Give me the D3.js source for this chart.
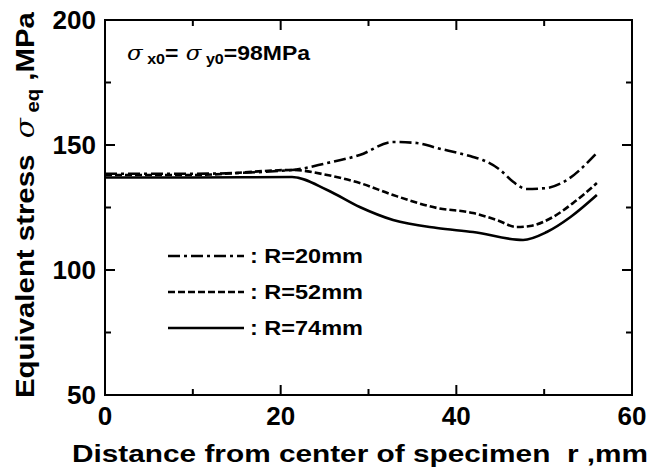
<!DOCTYPE html>
<html>
<head>
<meta charset="utf-8">
<script src="https://cdn.jsdelivr.net/npm/d3@7"></script>
<style>
  body { margin: 0; background: #fff; }
  text { font-family: "Liberation Sans", Arial, sans-serif; font-weight: bold; fill: #000; white-space: pre; }
</style>
</head>
<body>
<svg id="chart"></svg>
<script>
// R = 20 mm (dash-dot)
const r20 = [0, 10, 21.3, 25.3, 29, 32.8, 35.5, 37.8, 41.9, 43, 45, 46.5, 48, 50.3, 52.2, 56]
const v20 = [138.5, 138.5, 140, 142.8, 146, 151.2, 150.8, 148.8, 145.2, 144, 140, 135.2, 132.4, 132.8, 135.2, 146.8]
// R = 52 mm (dashed)
const r52 = [0, 10, 21.4, 25.3, 29, 32.8, 37.8, 41.9, 44.6, 46.9, 48.4, 51, 53.3, 56]
const v52 = [138, 138, 140, 138, 134.8, 130, 124.8, 122.8, 120, 117.2, 117.6, 121.2, 126.8, 134.8]
// R = 74 mm (solid)
const r74 = [0, 10, 21.3, 25.3, 29, 32.8, 37.8, 41.9, 47.6, 50.3, 53, 56]
const v74 = [137, 137, 137.2, 132, 125.2, 120, 116.8, 115.2, 112, 115.2, 121.2, 130]

const xTicks = [0, 20, 40, 60]
const xMinor = [10, 30, 50]
const yTicks = [50, 100, 150, 200]
const yMinor = [75, 125, 175]
const legendLabels = [': R=20mm', ': R=52mm', ': R=74mm']
const dashes = ['12,4,3,4', '7,3', null]

const width = 652, height = 470
const margin = { top: 20, left: 105, bottom: 75, right: 20 }
const iwidth = width - margin.left - margin.right
const iheight = height - margin.top - margin.bottom

const svg = d3.select('#chart').attr('width', width).attr('height', height)
const g = svg.append('g').attr('transform', `translate(${margin.left},${margin.top})`)

const x = d3.scaleLinear().domain([0, 60]).range([0, iwidth])
const y = d3.scaleLinear().domain([50, 200]).range([iheight, 0])

// frame
g.append('rect')
    .attr('width', iwidth).attr('height', iheight)
    .attr('fill', 'none').attr('stroke', '#000').attr('stroke-width', 2)

// inward ticks on all four sides
const tk = (vals, len) => {
    vals.forEach(v => {
        g.append('line').attr('x1', x(v)).attr('x2', x(v)).attr('y1', iheight).attr('y2', iheight - len)
            .attr('stroke', '#000').attr('stroke-width', 2)
        g.append('line').attr('x1', x(v)).attr('x2', x(v)).attr('y1', 0).attr('y2', len)
            .attr('stroke', '#000').attr('stroke-width', 2)
    })
}
tk(xTicks, 10)
tk(xMinor, 6)
const tky = (vals, len) => {
    vals.forEach(v => {
        g.append('line').attr('y1', y(v)).attr('y2', y(v)).attr('x1', 0).attr('x2', len)
            .attr('stroke', '#000').attr('stroke-width', 2)
        g.append('line').attr('y1', y(v)).attr('y2', y(v)).attr('x1', iwidth).attr('x2', iwidth - len)
            .attr('stroke', '#000').attr('stroke-width', 2)
    })
}
tky(yTicks, 10)
tky(yMinor, 6)

// tick labels
g.selectAll('.xl').data(xTicks).enter().append('text')
    .attr('x', d => x(d)).attr('y', iheight + 30)
    .attr('text-anchor', 'middle').style('font-size', '26px')
    .text(d => d)
g.selectAll('.yl').data(yTicks).enter().append('text')
    .attr('x', -9).attr('y', d => y(d) + 9)
    .attr('text-anchor', 'end').style('font-size', '26px')
    .text(d => d)

// axis titles
svg.append('text')
    .attr('x', 72).attr('y', 462)
    .attr('textLength', 576).attr('lengthAdjust', 'spacingAndGlyphs')
    .style('font-size', '24px')
    .text('Distance from center of specimen\u00A0\u00A0r ,mm')

const yt = svg.append('text')
    .attr('transform', 'translate(34,398) rotate(-90)')
    .attr('textLength', 386).attr('lengthAdjust', 'spacingAndGlyphs')
    .style('font-size', '26px')
yt.append('tspan').text('Equivalent stress\u00A0\u00A0')
yt.append('tspan').style('font-family', '"DejaVu Serif", serif').style('font-style', 'italic').style('font-weight', 'normal').text('σ')
yt.append('tspan').attr('dy', 5).style('font-size', '18px').text('\u00A0eq')
yt.append('tspan').attr('dy', -5).text(' ,MPa')

// annotation
const an = svg.append('text').attr('x', 127).attr('y', 60).style('font-size', '20px')
    .attr('textLength', 183).attr('lengthAdjust', 'spacingAndGlyphs')
an.append('tspan').style('font-family', '"DejaVu Serif", serif').style('font-style', 'italic').style('font-weight', 'normal').text('σ')
an.append('tspan').attr('dy', 4).style('font-size', '14px').text('\u00A0x0')
an.append('tspan').attr('dy', -4).text('=')
an.append('tspan').style('font-family', '"DejaVu Serif", serif').style('font-style', 'italic').style('font-weight', 'normal').text('\u00A0σ')
an.append('tspan').attr('dy', 4).style('font-size', '14px').text('\u00A0y0')
an.append('tspan').attr('dy', -4).text('=98MPa')

// curves
const series = [
    r20.map((r, i) => [r, v20[i]]),
    r52.map((r, i) => [r, v52[i]]),
    r74.map((r, i) => [r, v74[i]])
]
const line = d3.line().x(d => x(d[0])).y(d => y(d[1])).curve(d3.curveMonotoneX)
series.forEach((s, i) => {
    g.append('path').datum(s)
        .attr('d', line)
        .attr('fill', 'none').attr('stroke', '#000').attr('stroke-width', 2.6)
        .attr('stroke-dasharray', dashes[i])
})

// legend
const lg = svg.append('g')
legendLabels.forEach((lab, i) => {
    const ly = 256 + i * 36
    lg.append('line').attr('x1', 168).attr('x2', 244).attr('y1', ly).attr('y2', ly)
        .attr('stroke', '#000').attr('stroke-width', 2.6)
        .attr('stroke-dasharray', dashes[i])
    lg.append('text').attr('x', 250).attr('y', ly + 7)
        .attr('textLength', 113).attr('lengthAdjust', 'spacingAndGlyphs')
        .style('font-size', '21px').text(lab)
})
</script>
</body>
</html>
